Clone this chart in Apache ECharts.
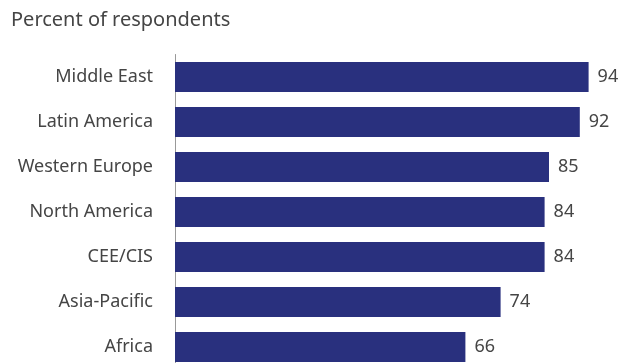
<!DOCTYPE html>
<html>
<head>
<meta charset="utf-8">
<script src="https://cdn.jsdelivr.net/npm/echarts@6/dist/echarts.min.js"></script>
<style>
  html, body { margin: 0; padding: 0; background: #fff; }
  #chart { width: 622px; height: 363px; }
</style>
</head>
<body>
<div id="chart"></div>
<script>
var regions = ['Middle East', 'Latin America', 'Western Europe', 'North America', 'CEE/CIS', 'Asia-Pacific', 'Africa'];
var percents = [94, 92, 85, 84, 84, 74, 66];

var chart = echarts.init(document.getElementById('chart'));

var option = {
    animation: false,
    title: {
        text: 'Percent of respondents',
        left: 6,
        top: 5,
        textStyle: {
            fontFamily: 'Noto Sans',
            fontSize: 20,
            fontWeight: 'normal',
            color: '#454545'
        }
    },
    grid: {
        left: 175,
        top: 54.5,
        width: 440,
        height: 315,
        outerBoundsMode: 'none',
        containLabel: false
    },
    xAxis: {
        type: 'value',
        min: 0,
        max: 100,
        show: false
    },
    yAxis: {
        type: 'category',
        inverse: true,
        data: regions,
        axisLine: { show: true, lineStyle: { color: '#999', width: 1 } },
        axisTick: { show: false },
        axisLabel: {
            margin: 22,
            fontFamily: 'Noto Sans',
            fontSize: 18,
            color: '#454545'
        }
    },
    series: [
        {
            type: 'bar',
            data: percents,
            barWidth: 30,
            itemStyle: { color: '#29307e' },
            label: {
                show: true,
                position: 'right',
                distance: 9,
                fontFamily: 'Noto Sans',
                fontSize: 18,
                color: '#454545'
            }
        }
    ]
};

chart.setOption(option);
</script>
</body>
</html>
